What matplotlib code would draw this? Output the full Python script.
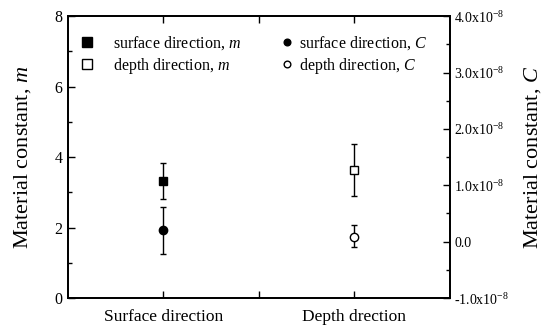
import numpy as np
import matplotlib.pyplot as plt

plt.rcParams['font.family'] = 'Liberation Serif'
plt.rcParams['mathtext.fontset'] = 'custom'
plt.rcParams['mathtext.rm'] = 'Liberation Serif'
plt.rcParams['mathtext.it'] = 'Liberation Serif:italic'

# data
categories = ["Surface direction", "", "Depth drection"]
cat_pos = [1, 2, 3]

m_surface = 3.32
m_surface_err = [[0.51], [0.50]]   # lower, upper
m_depth = 3.62
m_depth_err = [[0.72], [0.74]]

C_surface = 0.21e-8
C_surface_err = [[0.42e-8], [0.40e-8]]
C_depth = 0.09e-8
C_depth_err = [[0.19e-8], [0.20e-8]]

right_ticks = [-1e-8, 0, 1e-8, 2e-8, 3e-8, 4e-8]
right_labels = ["-1.0x10$^{-8}$", "0.0", "1.0x10$^{-8}$", "2.0x10$^{-8}$",
                "3.0x10$^{-8}$", "4.0x10$^{-8}$"]

fig = plt.figure(figsize=(5.48, 3.29), dpi=100)
ax = fig.add_axes([0.124, 0.094, 0.697, 0.857])
ax2 = ax.twinx()

eb = dict(ecolor='black', elinewidth=1, capsize=2.2, capthick=1, ms=6,
          mec='black', mew=1, ls='none')
h1 = ax.errorbar([cat_pos[0]], [m_surface], yerr=m_surface_err, marker='s',
                 mfc='black', **eb)
h2 = ax.errorbar([cat_pos[2]], [m_depth], yerr=m_depth_err, marker='s',
                 mfc='white', **eb)
h3 = ax2.errorbar([cat_pos[0]], [C_surface], yerr=C_surface_err, marker='o',
                  mfc='black', **eb)
h4 = ax2.errorbar([cat_pos[2]], [C_depth], yerr=C_depth_err, marker='o',
                  mfc='white', **eb)

ax.set_xlim(0, 4)
ax.set_ylim(0, 8)
ax.set_xticks(cat_pos)
ax.set_xticklabels(categories, fontsize=12.5)
ax.set_yticks([0, 2, 4, 6, 8])
ax.set_yticks([1, 3, 5, 7], minor=True)
ax.tick_params(axis='y', which='both', direction='in', labelsize=11.5, pad=4)
ax.tick_params(axis='y', which='major', length=5, width=1)
ax.tick_params(axis='y', which='minor', length=3, width=1)
ax.tick_params(axis='x', direction='in', top=True, length=5, width=1, pad=8)
ax.set_ylabel("Material constant, $\\it{m}$", fontsize=16)
ax.yaxis.set_label_coords(-0.092, 0.5)

ax2.set_ylim(-1e-8, 4e-8)
ax2.set_yticks(right_ticks)
ax2.set_yticklabels(right_labels)
ax2.set_yticks(np.arange(-0.5e-8, 4e-8, 1e-8), minor=True)
ax2.tick_params(axis='y', which='both', direction='in', labelsize=10, pad=3)
ax2.tick_params(axis='y', which='major', length=5, width=1)
ax2.tick_params(axis='y', which='minor', length=3, width=1)
ax2.set_ylabel("Material constant, $\\it{C}$", fontsize=16)
ax2.yaxis.set_label_coords(1.19, 0.5)

for a in (ax, ax2):
    for s in a.spines.values():
        s.set_linewidth(1.3)

ax.legend([h1[0], h2[0]],
          ["surface direction, $\\it{m}$", "depth direction, $\\it{m}$"],
          loc='upper left', bbox_to_anchor=(0.026, 0.936), frameon=False,
          fontsize=11.5, handlelength=1.2, handletextpad=1.0,
          labelspacing=0.25, borderaxespad=0, borderpad=0, markerscale=1.1)
ax2.legend([h3[0], h4[0]],
           ["surface direction, $\\it{C}$", "depth direction, $\\it{C}$"],
           loc='upper left', bbox_to_anchor=(0.564, 0.936), frameon=False,
           fontsize=11.5, handlelength=0.4, handletextpad=0.58,
           labelspacing=0.25, borderaxespad=0, borderpad=0, markerscale=0.8)

fig.savefig("out.png", dpi=100)
